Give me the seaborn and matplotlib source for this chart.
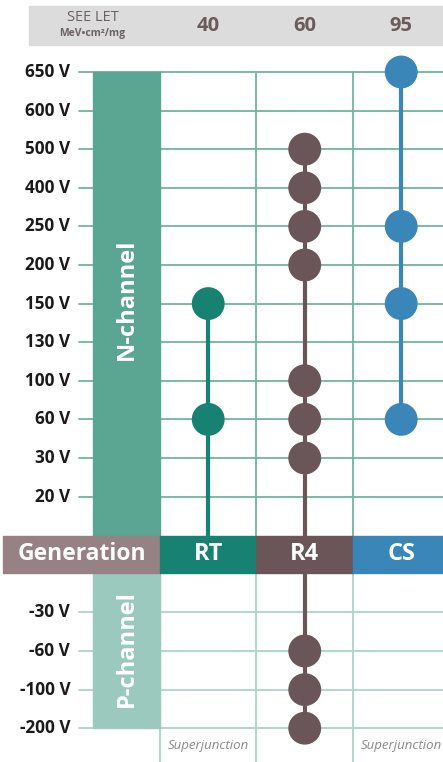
import numpy as np
import pandas as pd
import matplotlib
matplotlib.use("Agg")
import matplotlib.pyplot as plt
import seaborn as sns

# voltage classes, top to bottom
n_levels = ["650 V", "600 V", "500 V", "400 V", "250 V", "200 V",
            "150 V", "130 V", "100 V", "60 V", "30 V", "20 V"]
p_levels = ["-30 V", "-60 V", "-100 V", "-200 V"]

let_values = ["40", "60", "95"]
generations = ["RT", "R4", "CS"]
gen_colors = ["#178272", "#6a5558", "#3a86b8"]
notes = ["Superjunction", "", "Superjunction"]

rt_ratings = ["150 V", "60 V"]
r4_ratings = ["500 V", "400 V", "250 V", "200 V", "100 V", "60 V", "30 V",
              "-60 V", "-100 V", "-200 V"]
cs_ratings = ["650 V", "250 V", "150 V", "60 V"]

# where each stem starts / ends
stem_top = ["150 V", "500 V", "650 V"]
stem_bottom = ["Generation", "-200 V", "60 V"]

# row positions
row_pos = {lab: i for i, lab in enumerate(n_levels)}
row_pos["Generation"] = len(n_levels) + 0.5
for i, lab in enumerate(p_levels):
    row_pos[lab] = len(n_levels) + 2 + i

rows = []
for g, ratings in zip(generations, [rt_ratings, r4_ratings, cs_ratings]):
    for r in ratings:
        rows.append({"gen": g, "col": generations.index(g), "row": row_pos[r]})
df = pd.DataFrame(rows)

sns.set_theme(style="white")
plt.rcParams["font.family"] = ["Open Sans", "DejaVu Sans"]

fig = plt.figure(figsize=(4.43, 7.62), dpi=100)
ax = fig.add_axes([0, 0, 1, 1])

grid_dark = "#72b4a3"
grid_light = "#a9d6cb"
n_band = "#5ba593"
p_band = "#9cc9bd"
gen_row = row_pos["Generation"]
gen_half = 0.47
last_row = row_pos[p_levels[-1]]

# header band
ax.fill_between([-1.857, 2.433], -1.71, -0.70, color="#dcdcdc", zorder=0)
ax.text(-1.2, -1.4, "SEE LET", ha="center", va="center", fontsize=10.5,
        color="#6b6262")
ax.text(-1.2, -1.0, "MeV•cm²/mg", ha="center", va="center", fontsize=7.5,
        color="#6b6262", fontweight="bold")
for i, v in enumerate(let_values):
    ax.text(i, -1.2, v, ha="center", va="center", fontsize=14.5,
            fontweight="bold", color="#6b5c5c")

# horizontal grid
for lab in n_levels:
    ax.plot([-1.34, 2.433], [row_pos[lab]] * 2, color=grid_dark, lw=1.3, zorder=1)
for lab in p_levels:
    ax.plot([-1.34, 2.433], [row_pos[lab]] * 2, color=grid_light, lw=1.3, zorder=1)

# vertical grid
for x in [-0.5, 0.5, 1.5]:
    ax.plot([x, x], [0, gen_row], color=grid_dark, lw=1.3, zorder=1)
    ax.plot([x, x], [gen_row, 17.876], color=grid_light, lw=1.3, zorder=1)

# channel bands
ax.fill_between([-1.194, -0.5], 0, gen_row - gen_half, color=n_band, zorder=2)
ax.fill_between([-1.194, -0.5], gen_row + gen_half, last_row, color=p_band, zorder=2)
ax.text(-0.847, row_pos["150 V"] - 0.1, "N-channel", rotation=90, ha="center",
        va="center", fontsize=17, fontweight="bold", color="white", zorder=3)
ax.text(-0.847, row_pos["-60 V"] - 0.05, "P-channel", rotation=90, ha="center",
        va="center", fontsize=17, fontweight="bold", color="white", zorder=3)

# tick labels
for lab in n_levels + p_levels:
    ax.text(-1.43, row_pos[lab], lab, ha="right", va="center", fontsize=12.3,
            fontweight="bold", color="#1a1a1a")

# generation row
ax.fill_between([-2.127, -0.5], gen_row - gen_half, gen_row + gen_half,
                color="#968184", zorder=4)
ax.text(-1.31, gen_row, "Generation", ha="center", va="center", fontsize=16.5,
        fontweight="bold", color="white", zorder=5)
for i, (g, c) in enumerate(zip(generations, gen_colors)):
    ax.fill_between([i - 0.5, i + 0.5], gen_row - gen_half, gen_row + gen_half,
                    color=c, zorder=4)
    ax.text(i, gen_row, g, ha="center", va="center", fontsize=17,
            fontweight="bold", color="white", zorder=5)

# stems
for i, (c, t, b) in enumerate(zip(gen_colors, stem_top, stem_bottom)):
    ax.vlines(i, row_pos[t], row_pos[b], color=c, lw=3.0, zorder=3)

# dots
sns.scatterplot(data=df, x="col", y="row", hue="gen", hue_order=generations,
                palette=gen_colors, s=560, edgecolor="none", legend=False,
                ax=ax, zorder=6)

# footnotes
for i, n in enumerate(notes):
    if n:
        ax.text(i, 17.45, n, ha="center", va="center", fontsize=9.5,
                style="italic", color="#8a8a8a")

ax.set_xlim(-2.158, 2.433)
ax.set_ylim(17.876, -1.865)
ax.axis("off")

fig.savefig("out.png", dpi=100)
